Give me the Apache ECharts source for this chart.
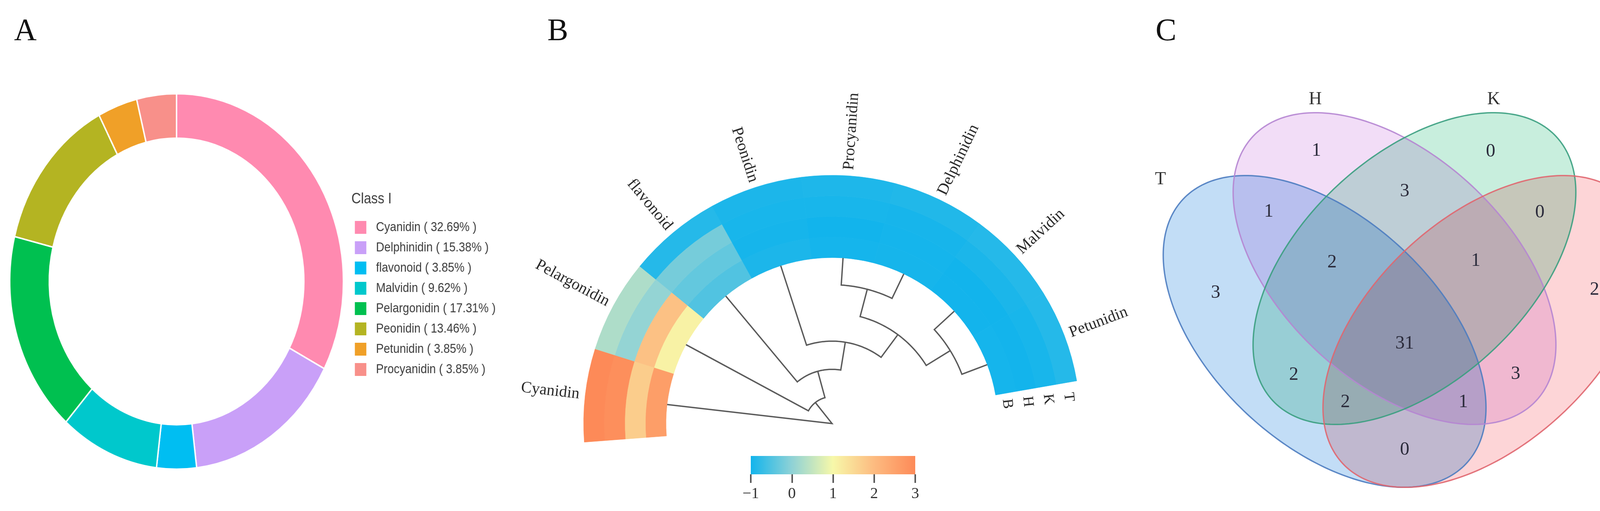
<!DOCTYPE html>
<html>
<head>
<meta charset="utf-8">
<script src="https://cdn.jsdelivr.net/npm/echarts@6/dist/echarts.min.js"></script>
<style>
html,body{margin:0;padding:0;background:#fff;overflow:hidden;}
#main{position:absolute;left:0;top:0;width:4256px;height:1309px;}
#pieA{position:absolute;left:0;top:0;width:1560px;height:1309px;transform:scaleX(0.888);transform-origin:0 0;}
#main canvas[data-zr-dom-id="zr_1"],
#main canvas[data-zr-dom-id="zr_2"],
#main canvas[data-zr-dom-id="zr_3"],
#main canvas[data-zr-dom-id="zr_4"]{mix-blend-mode:multiply;}
</style>
</head>
<body>
<div id="main"></div>
<div id="pieA"></div>
<script>
// ---------------- Panel A data ----------------
const classes = ['Cyanidin','Delphinidin','flavonoid','Malvidin','Pelargonidin','Peonidin','Petunidin','Procyanidin'];
const classCounts = [17, 8, 2, 5, 9, 7, 2, 2];
const classColors = ['#ff8ab0','#c9a0f8','#00bef2','#00c8cc','#00c050','#b4b422','#f0a028','#f8908a'];

// ---------------- Panel B data ----------------
const compounds = ['Cyanidin','Pelargonidin','flavonoid','Peonidin','Procyanidin','Delphinidin','Malvidin','Petunidin'];
const rings = ['B','H','K','T'];               // inner -> outer
const heatB = [2.6, 1.1, -0.5, -0.92, -0.98, -0.97, -0.99, -0.98];
const heatH = [1.7, 1.9, -0.35, -0.97, -1.0, -0.98, -1.0, -0.99];
const heatK = [2.9, 0.05, -0.2, -0.95, -0.95, -0.96, -0.93, -0.95];
const heatT = [3.0, 0.3, -0.85, -0.92, -0.9, -0.88, -0.85, -0.85];
const scaleTicks = [-1, 0, 1, 2, 3];
const scaleTickLabels = ['\u22121', '0', '1', '2', '3'];
const scaleColors = ['#12b4ec', '#8fd2d6', '#f7f8a9', '#fdbb80', '#fd8a58'];
// hierarchical merges: [childA, childB, height]; negative = leaf (1-based compound), positive = earlier merge (1-based)
const dendroMerges = [[-7, -8, 0.98], [-5, -6, 0.98], [2, 1, 2.0], [-4, 3, 3.02], [-3, 4, 4.04], [-2, 5, 5.03], [-1, 6, 6.0]];
const dendroMaxHeight = 6;

// ---------------- Panel C data ----------------
const vennSets = ['T', 'H', 'K', 'B'];
const vennRegions = ['T','H','K','B','TH','HK','KB','THK','HKB','THKB','TK','HB','TKB','THB','TB'];
const vennCounts = [3, 1, 0, 2, 1, 3, 0, 2, 1, 31, 2, 3, 2, 1, 0];

// ---------------- layout / style constants ----------------
const SECTOR_DEG = 21.8, START_DEG = 184.3;
const POLAR_CENTER = [2130, 1085];
const vennGeom = [
  {cx: 491, cy: 849, a: 496, b: 290, rot: 43},
  {cx: 670, cy: 688, a: 496, b: 290, rot: 43},
  {cx: 721, cy: 688, a: 496, b: 290, rot: 137},
  {cx: 900, cy: 849, a: 496, b: 290, rot: 137}
];
const VENN_W = 1356, VENN_H = 1309;
const vennFill = ['#c2ddf6', '#f2ddf7', '#c8eedd', '#fdd5d7'];
const vennStroke = ['#4c7cc0', '#b585d2', '#3a9e80', '#e0666f'];
const SERIF = 'Liberation Serif', SANS = 'Liberation Sans';

// ================= Panel A =================
const total = classCounts.reduce((a, b) => a + b, 0);
const chartA = echarts.init(document.getElementById('pieA'));
chartA.setOption({
  animation: false,
  title: {text: 'Class I', left: 1008, top: 487,
    textStyle: {fontSize: 38, fontWeight: 'normal', color: '#404040', fontFamily: SANS}},
  legend: {
    orient: 'vertical', left: 1016, top: 559, itemWidth: 35, itemHeight: 35, itemGap: 15,
    icon: 'rect', selectedMode: false, data: classes,
    formatter: name => {
      const i = classes.indexOf(name);
      return name + ' ( ' + (classCounts[i] / total * 100).toFixed(2) + '% )';
    },
    textStyle: {fontSize: 33, color: '#3a3a3a', fontFamily: SANS, padding: [0, 0, 0, 22]}
  },
  series: [{
    type: 'pie', center: [509, 721], radius: [367, 481], startAngle: 90, clockwise: true,
    label: {show: false}, labelLine: {show: false}, emphasis: {disabled: true},
    itemStyle: {borderColor: '#fff', borderWidth: 4, borderRadius: 0},
    data: classes.map((n, i) => ({name: n, value: classCounts[i], itemStyle: {color: classColors[i]}}))
  }]
});

// ================= Panels B & C =================
const chart = echarts.init(document.getElementById('main'));
const angleMax = 360 / SECTOR_DEG;

const heatData = [];
[heatB, heatH, heatK, heatT].forEach((arr, r) => arr.forEach((v, i) => heatData.push([r, i + 0.5, v])));

// dendrogram node angular positions
const nodePos = [];
dendroMerges.forEach((m, k) => {
  const pos = [m[0], m[1]].map(c => c < 0 ? (-c - 0.5) : nodePos[c - 1]);
  nodePos.push((pos[0] + pos[1]) / 2);
});

function polarInfo(cs, pt) {
  return {r: Math.hypot(pt[0] - cs.cx, pt[1] - cs.cy), a: Math.atan2(cs.cy - pt[1], pt[0] - cs.cx)};
}
function normAng(d) { while (d > Math.PI) d -= 2 * Math.PI; while (d <= -Math.PI) d += 2 * Math.PI; return d; }

// ----- venn geometry helpers -----
function ellipsePoint(g, t) {
  const r = g.rot * Math.PI / 180;
  return [g.cx + g.a * Math.cos(t) * Math.cos(r) - g.b * Math.sin(t) * Math.sin(r),
          g.cy + g.a * Math.cos(t) * Math.sin(r) + g.b * Math.sin(t) * Math.cos(r)];
}
function insideEl(g, x, y) {
  const r = g.rot * Math.PI / 180, dx = x - g.cx, dy = y - g.cy;
  const u = dx * Math.cos(r) + dy * Math.sin(r), v = -dx * Math.sin(r) + dy * Math.cos(r);
  return (u * u) / (g.a * g.a) + (v * v) / (g.b * g.b) < 1;
}
const boundary = [];
vennGeom.forEach(g => { for (let k = 0; k < 360; k++) boundary.push(ellipsePoint(g, k * Math.PI / 180)); });
function regionKey(x, y) { let s = ''; vennGeom.forEach((g, i) => { if (insideEl(g, x, y)) s += vennSets[i]; }); return s; }
function clearance(x, y) {
  let m = Infinity;
  for (let i = 0; i < boundary.length; i++) {
    const dx = boundary[i][0] - x, dy = boundary[i][1] - y, d = dx * dx + dy * dy;
    if (d < m) m = d;
  }
  return Math.sqrt(m);
}
const best = {};
for (let x = 0; x <= VENN_W; x += 8) for (let y = 80; y <= VENN_H; y += 8) {
  const k = regionKey(x, y); if (!k) continue;
  const c = clearance(x, y);
  if (!best[k] || c > best[k][2]) best[k] = [x, y, c];
}
Object.keys(best).forEach(k => {
  const b0 = best[k]; let bb = b0;
  for (let x = b0[0] - 8; x <= b0[0] + 8; x += 2) for (let y = b0[1] - 8; y <= b0[1] + 8; y += 2) {
    if (regionKey(x, y) !== k) continue;
    const c = clearance(x, y); if (c > bb[2]) bb = [x, y, c];
  }
  best[k] = bb;
});
const countData = vennRegions.map((k, i) => [best[k][0], best[k][1], vennCounts[i]]);

// set-name label anchors derived from ellipse extremes
const setLabelData = vennGeom.map((g, i) => {
  let top = [0, Infinity], left = [Infinity, 0], right = [-Infinity, 0];
  for (let k = 0; k < 720; k++) {
    const p = ellipsePoint(g, k * Math.PI / 360);
    if (p[1] < top[1]) top = p; if (p[0] < left[0]) left = p; if (p[0] > right[0]) right = p;
  }
  if (i === 0) return [left[0] - 7, top[1] + 10, i];
  if (i === 3) return [right[0] + 4, top[1] + 12, i];
  return [top[0], top[1] - 34, i];
});

const letterStyle = {fontSize: 80, fontFamily: SERIF, fill: '#111', align: 'center', verticalAlign: 'middle'};

function ellipseFillSeries(i) {
  return {
    type: 'custom', coordinateSystem: 'cartesian2d', xAxisIndex: 1, yAxisIndex: 1, silent: true, clip: false,
    zlevel: i + 1,
    data: [[vennGeom[i].cx, vennGeom[i].cy, i]],
    renderItem: (params, api) => {
      const g = vennGeom[api.value(2)];
      const pts = [];
      for (let k = 0; k < 240; k++) pts.push(api.coord(ellipsePoint(g, k * Math.PI / 120)));
      return {type: 'polygon', shape: {points: pts}, style: {fill: vennFill[api.value(2)]}};
    }
  };
}

chart.setOption({
  animation: false,
  backgroundColor: '#fff',
  graphic: [
    {type: 'text', x: 65, y: 82, style: Object.assign({text: 'A'}, letterStyle)},
    {type: 'text', x: 1428, y: 82, style: Object.assign({text: 'B'}, letterStyle)},
    {type: 'text', x: 2985, y: 82, style: Object.assign({text: 'C'}, letterStyle)}
  ],
  polar: [
    {center: POLAR_CENTER, radius: [425, 636]},
    {center: POLAR_CENTER, radius: [0, 425]}
  ],
  angleAxis: [0, 1].map(pi => ({
    polarIndex: pi, type: 'value', min: 0, max: angleMax, startAngle: START_DEG, clockwise: true,
    axisLine: {show: false}, axisTick: {show: false}, axisLabel: {show: false}, splitLine: {show: false}
  })),
  radiusAxis: [
    {polarIndex: 0, type: 'category', data: rings, axisLine: {show: false}, axisTick: {show: false},
      axisLabel: {show: false}, splitLine: {show: false}},
    {polarIndex: 1, type: 'value', min: 0, max: dendroMaxHeight, inverse: true, axisLine: {show: false},
      axisTick: {show: false}, axisLabel: {show: false}, splitLine: {show: false}}
  ],
  grid: [
    {left: 1922, top: 1168, width: 421, height: 47, outerBoundsMode: 'none'},
    {left: 2900, top: 0, width: VENN_W, height: VENN_H, outerBoundsMode: 'none'}
  ],
  xAxis: [
    {gridIndex: 0, type: 'value', min: scaleTicks[0], max: scaleTicks[scaleTicks.length - 1], interval: 1,
      axisLine: {show: false}, splitLine: {show: false},
      axisTick: {show: true, length: 22, lineStyle: {color: '#5a5a5a', width: 4}},
      axisLabel: {margin: 30, fontSize: 40, fontFamily: SERIF, color: '#333',
        formatter: v => scaleTickLabels[scaleTicks.indexOf(v)]}},
    {gridIndex: 1, type: 'value', min: 0, max: VENN_W, show: false}
  ],
  yAxis: [
    {gridIndex: 0, type: 'value', min: 0, max: 1, show: false},
    {gridIndex: 1, type: 'value', min: 0, max: VENN_H, inverse: true, show: false}
  ],
  visualMap: {
    type: 'continuous', show: false, min: scaleTicks[0], max: scaleTicks[scaleTicks.length - 1],
    dimension: 2, seriesIndex: 0, inRange: {color: scaleColors}
  },
  series: [
    // 0: circular heatmap
    {
      type: 'custom', coordinateSystem: 'polar', polarIndex: 0, clip: false,
      encode: {radius: 0, angle: 1}, data: heatData,
      renderItem: (params, api) => {
        const cs = params.coordSys;
        const r = api.value(0), v = api.value(1);
        const c = polarInfo(cs, api.coord([r, v]));
        const a1 = polarInfo(cs, api.coord([r, v - 0.5])).a, a2 = polarInfo(cs, api.coord([r, v + 0.5])).a;
        const half = Math.abs(normAng(a1 - a2)) / 2;
        const band = (cs.r - cs.r0) / rings.length;
        const col = api.visual('color');
        return {type: 'sector',
          shape: {cx: cs.cx, cy: cs.cy, r0: c.r - band / 2, r: c.r + band / 2,
            startAngle: -c.a - half, endAngle: -c.a + half, clockwise: true},
          style: {fill: col, stroke: col, lineWidth: 0.8}};
      }
    },
    // 1: compound labels
    {
      type: 'custom', coordinateSystem: 'polar', polarIndex: 0, clip: false, silent: true,
      encode: {radius: 0, angle: 1}, data: compounds.map((n, i) => [rings.length - 1, i + 0.5, i]),
      renderItem: (params, api) => {
        const cs = params.coordSys;
        const c = polarInfo(cs, api.coord([api.value(0), api.value(1)]));
        const R = cs.r + 15;
        const deg = c.a * 180 / Math.PI;
        const left = deg > 90 || deg < -90;
        return {type: 'text', x: cs.cx + R * Math.cos(c.a), y: cs.cy - R * Math.sin(c.a),
          rotation: left ? c.a - Math.PI : c.a,
          style: {text: compounds[api.value(2)], fontSize: 41, fontFamily: SERIF, fill: '#2a2a2a',
            align: left ? 'right' : 'left', verticalAlign: 'middle'}};
      }
    },
    // 2: ring labels at arc end
    {
      type: 'custom', coordinateSystem: 'polar', polarIndex: 0, clip: false, silent: true,
      encode: {radius: 0, angle: 1}, data: rings.map((n, r) => [r, compounds.length + 0.16, r]),
      renderItem: (params, api) => {
        const cs = params.coordSys;
        const pt = api.coord([api.value(0), api.value(1)]);
        const c = polarInfo(cs, pt);
        return {type: 'text', x: pt[0], y: pt[1], rotation: c.a - Math.PI / 2,
          style: {text: rings[api.value(2)], fontSize: 38, fontFamily: SERIF, fill: '#2a2a2a',
            align: 'center', verticalAlign: 'middle'}};
      }
    },
    // 3: dendrogram
    {
      type: 'custom', coordinateSystem: 'polar', polarIndex: 1, clip: false, silent: true,
      encode: {radius: 0, angle: 1}, data: dendroMerges.map((m, k) => [m[2], nodePos[k], k]),
      renderItem: (params, api) => {
        const k = api.value(2), m = dendroMerges[k], h = m[2];
        const kids = [m[0], m[1]].map(c => c < 0 ? {h: 0, x: -c - 0.5} : {h: dendroMerges[c - 1][2], x: nodePos[c - 1]});
        const pts = [api.coord([kids[0].h, kids[0].x]).slice(0, 2)];
        const N = 48;
        for (let j = 0; j <= N; j++) {
          const x = kids[0].x + (kids[1].x - kids[0].x) * j / N;
          pts.push(api.coord([h, x]).slice(0, 2));
        }
        pts.push(api.coord([kids[1].h, kids[1].x]).slice(0, 2));
        return {type: 'polyline', shape: {points: pts},
          style: {stroke: '#5a5a5a', lineWidth: 3.5, fill: null, lineJoin: 'miter'}};
      }
    },
    // 4: colour bar
    {
      type: 'custom', coordinateSystem: 'cartesian2d', xAxisIndex: 0, yAxisIndex: 0, silent: true,
      data: [[scaleTicks[0], 0]],
      renderItem: (params, api) => {
        const p0 = api.coord([scaleTicks[0], 1]), p1 = api.coord([scaleTicks[scaleTicks.length - 1], 0]);
        return {type: 'rect', shape: {x: p0[0], y: p0[1], width: p1[0] - p0[0], height: p1[1] - p0[1]},
          style: {fill: new echarts.graphic.LinearGradient(0, 0, 1, 0,
            scaleColors.map((c, i) => ({offset: i / (scaleColors.length - 1), color: c})))}};
      }
    },
    // 5-8: venn fills (each on its own multiply-blended layer)
    ellipseFillSeries(0), ellipseFillSeries(1), ellipseFillSeries(2), ellipseFillSeries(3),
    // 9: venn outlines
    {
      type: 'custom', coordinateSystem: 'cartesian2d', xAxisIndex: 1, yAxisIndex: 1, silent: true, clip: false,
      zlevel: 6,
      data: vennGeom.map((g, i) => [g.cx, g.cy, i]),
      renderItem: (params, api) => {
        const g = vennGeom[api.value(2)];
        const pts = [];
        for (let k = 0; k < 240; k++) pts.push(api.coord(ellipsePoint(g, k * Math.PI / 120)));
        return {type: 'polygon', shape: {points: pts},
          style: {fill: null, stroke: vennStroke[api.value(2)], lineWidth: 3.5, opacity: 0.9}};
      }
    },
    // 10: venn counts
    {
      type: 'custom', coordinateSystem: 'cartesian2d', xAxisIndex: 1, yAxisIndex: 1, silent: true, clip: false,
      zlevel: 6,
      data: countData,
      renderItem: (params, api) => {
        const p = api.coord([api.value(0), api.value(1)]);
        return {type: 'text', x: p[0], y: p[1],
          style: {text: String(api.value(2)), fontSize: 48, fontFamily: SERIF, fill: '#2b2b3b',
            align: 'center', verticalAlign: 'middle'}};
      }
    },
    // 11: venn set names
    {
      type: 'custom', coordinateSystem: 'cartesian2d', xAxisIndex: 1, yAxisIndex: 1, silent: true, clip: false,
      zlevel: 6,
      data: setLabelData,
      renderItem: (params, api) => {
        const p = api.coord([api.value(0), api.value(1)]);
        return {type: 'text', x: p[0], y: p[1],
          style: {text: vennSets[api.value(2)], fontSize: 46, fontFamily: SERIF, fill: '#333',
            align: 'center', verticalAlign: 'middle'}};
      }
    }
  ]
});
</script>
</body>
</html>
